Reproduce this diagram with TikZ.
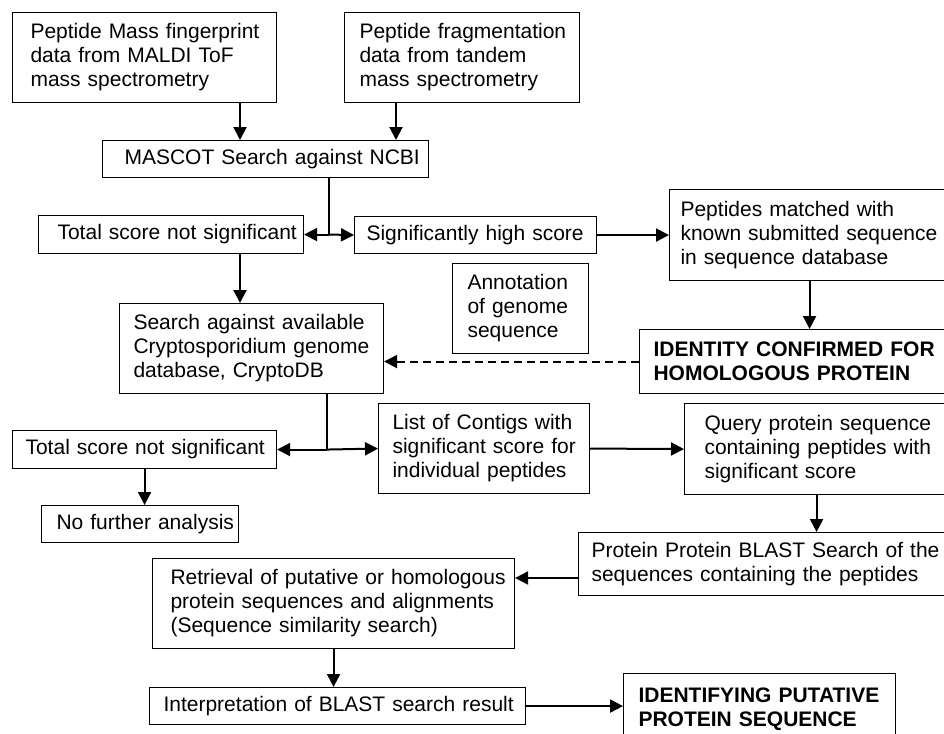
\documentclass[tikz,border=0pt]{standalone}
\usepackage{fontspec}
\setmainfont{Liberation Sans}
\usetikzlibrary{calc,arrows.meta}

\tikzset{
  box/.style n args={3}{draw, line width=1.1pt, anchor=north west, align=left,
    inner ysep=0pt, inner xsep=0pt, text width=#1pt, minimum height=#2pt,
    execute at begin node={\leftskip=#3pt\hyphenpenalty=10000},
    font=\fontsize{21}{24}\selectfont},
  arr/.style={line width=2pt, -{Triangle[width=13pt,length=13pt]}},
  stem/.style={line width=1.2pt}
}

\begin{document}
\begin{tikzpicture}[x=1pt, y=-1pt]

% Fix the frame of the picture
\fill[white] (0,0) rectangle (944,733);
\useasboundingbox (0,0) rectangle (944,733);
\clip (0,0) rectangle (944,733);

% Define columns and rows used by the off-centre connectors
\coordinate (xA) at (240,0);
\coordinate (xB) at (396,0);
\coordinate (xC) at (329,0);
\coordinate (xD) at (327,0);
\coordinate (yA) at (0,578);

% Draw the boxes
\node[box={264}{90}{18}] (pmf) at (12,12) {Peptide Mass fingerprint\\data from MALDI ToF\\mass spectrometry};
\node[box={235}{90}{15}] (frag) at (344,12) {Peptide fragmentation\\data from tandem\\mass spectrometry};
\node[box={326}{37}{22}] (mascot) at (102,140) {MASCOT Search against NCBI};
\node[box={265}{38}{19}] (tot1) at (38,215) {Total score not significant};
\node[box={242}{37}{12}] (sig) at (354,216) {Significantly high score};
\node[box={280}{91}{11}] (matched) at (669,189) {Peptides matched with\\known submitted sequence\\in sequence database};
\node[box={136}{90}{15}] (annot) at (452,263) {Annotation\\of genome\\sequence};
\node[box={310}{64}{14}] (confirm) at (639,329) {\textbf{IDENTITY CONFIRMED FOR}\\\textbf{HOMOLOGOUS PROTEIN}};
\node[box={264}{90}{14}] (crypto) at (119,303) {Search against available\\Cryptosporidium genome\\database, CryptoDB};
\node[box={264}{38}{13}] (tot2) at (12,430) {Total score not significant};
\node[box={211}{90}{14}] (contigs) at (378,403) {List of Contigs with\\significant score for\\individual peptides};
\node[box={264}{91}{20}] (query) at (684,403) {Query protein sequence\\containing peptides with\\significant score};
\node[box={197}{37}{15}] (nofurther) at (41,505) {No further analysis};
\node[box={371}{63}{13}] (blast) at (578,532) {Protein Protein BLAST Search of the\\sequences containing the peptides};
\node[box={362}{90}{18}] (retrieval) at (152,558) {Retrieval of putative or homologous\\protein sequences and alignments\\(Sequence similarity search)};
\node[box={376}{37}{14}] (interp) at (149,687) {Interpretation of BLAST search result};
\node[box={272}{72}{15}] (putative) at (623,673) {\textbf{IDENTIFYING PUTATIVE}\\\textbf{PROTEIN SEQUENCE}};

% Draw the connectors of the NCBI search
\draw[arr] (pmf.south -| xA) -- (mascot.north -| xA);
\draw[arr] (frag.south -| xB) -- (mascot.north -| xB);
\draw[stem] (mascot.south -| xC) -- (tot1.east -| xC);
\draw[arr] (tot1.east -| xC) -- (tot1.east);
\draw[arr] (tot1.east -| xC) -- (sig.west);
\draw[arr] (sig.east) -- (sig.east -| matched.west);
\draw[arr] (matched.south) -- (matched.south |- confirm.north);
\draw[arr, dash pattern=on 8pt off 5pt] (confirm.west) -- (confirm.west -| crypto.east);

% Draw the connectors of the CryptoDB search
\draw[arr] (tot1.south -| xA) -- (crypto.north -| xA);
\draw[stem] (crypto.south -| xD) -- (tot2.east -| xD);
\draw[arr] (tot2.east -| xD) -- (tot2.east);
\draw[arr] (tot2.east -| xD) -- (contigs.west);
\draw[arr] (tot2.south) -- (tot2.south |- nofurther.north);
\draw[arr] (contigs.east) -- (query.west);
\draw[arr] (query.south) -- (query.south |- blast.north);
\draw[arr] (blast.west |- yA) -- (retrieval.east |- yA);
\draw[arr] (retrieval.south) -- (retrieval.south |- interp.north);
\draw[arr] (interp.east) -- (interp.east -| putative.west);

\end{tikzpicture}
\end{document}
